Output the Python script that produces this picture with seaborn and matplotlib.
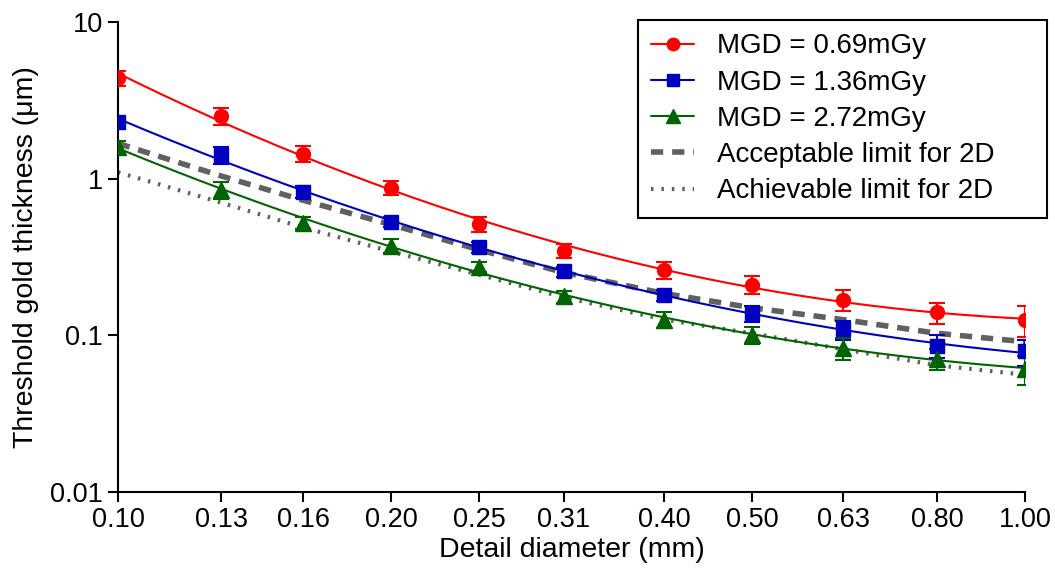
import matplotlib.pyplot as plt
import numpy as np
import pandas as pd
import seaborn as sns
from matplotlib.lines import Line2D

sns.set_theme(style="ticks")
plt.rcParams['font.family'] = ['Liberation Sans', 'DejaVu Sans']
plt.rcParams['text.color'] = 'black'
plt.rcParams['axes.labelcolor'] = 'black'

# detail diameter (mm)
diameter = [0.10, 0.13, 0.16, 0.20, 0.25, 0.31, 0.40, 0.50, 0.63, 0.80, 1.00]
tick_labels = ['0.10', '0.13', '0.16', '0.20', '0.25', '0.31', '0.40', '0.50', '0.63', '0.80', '1.00']

# threshold gold thickness (um), mean and error
mgd_069 = [4.40, 2.52, 1.44, 0.877, 0.516, 0.347, 0.263, 0.211, 0.169, 0.140, 0.125]
mgd_069_err = [0.48, 0.31, 0.17, 0.095, 0.056, 0.037, 0.033, 0.028, 0.027, 0.022, 0.028]
mgd_136 = [2.31, 1.42, 0.826, 0.532, 0.364, 0.256, 0.180, 0.138, 0.109, 0.086, 0.079]
mgd_136_err = [0.18, 0.18, 0.076, 0.040, 0.028, 0.019, 0.014, 0.017, 0.015, 0.014, 0.015]
mgd_272 = [1.60, 0.851, 0.525, 0.374, 0.275, 0.177, 0.126, 0.101, 0.083, 0.071, 0.061]
mgd_272_err = [0.15, 0.105, 0.048, 0.040, 0.021, 0.016, 0.015, 0.0125, 0.013, 0.011, 0.0126]

# EUREF limits for 2D
acceptable = [1.68, 1.04, 0.728, 0.509, 0.352, 0.252, 0.185, 0.150, 0.126, 0.103, 0.091]
achievable = [1.10, 0.703, 0.488, 0.343, 0.244, 0.175, 0.126, 0.103, 0.0815, 0.0644, 0.056]

series = [
    ('MGD = 0.69mGy', mgd_069, mgd_069_err, '#FF0000', 'o', 10),
    ('MGD = 1.36mGy', mgd_136, mgd_136_err, '#0000C0', 's', 10),
    ('MGD = 2.72mGy', mgd_272, mgd_272_err, '#006400', '^', 11),
]

fig, ax = plt.subplots()
fig.set_size_inches(10.55, 5.81)
fig.subplots_adjust(left=0.1118, right=0.9716, top=0.9621, bottom=0.1532)

x = np.array(diameter)
xs = np.logspace(np.log10(x[0]), np.log10(x[-1]), 200)
handles = []
for label, y, err, color, marker, ms in series:
    # second order fit in log-log space, as in the original
    coef = np.polyfit(np.log10(x), np.log10(y), 2)
    fit = pd.DataFrame({'d': xs, 't': 10 ** np.polyval(coef, np.log10(xs))})
    sns.lineplot(data=fit, x='d', y='t', color=color, linewidth=1.5, ax=ax, zorder=3)
    ax.errorbar(x, y, yerr=err, fmt=marker, color=color, markersize=ms,
                capsize=6, elinewidth=1.5, capthick=1.5, zorder=4)
    handles.append(Line2D([], [], color=color, marker=marker, markersize=ms - 1, linewidth=1.5, label=label))

dash = (0, (2.2, 1.6))
dot = (0, (0.6, 1.9))
lim = pd.DataFrame({'d': diameter, 'acc': acceptable, 'ach': achievable})
sns.lineplot(data=lim, x='d', y='acc', color='#606060', linewidth=4, linestyle=dash, ax=ax, zorder=2)
sns.lineplot(data=lim, x='d', y='ach', color='#606060', linewidth=3, linestyle=dot, ax=ax, zorder=2)
handles.append(Line2D([], [], color='#606060', linewidth=4, linestyle=dash, label='Acceptable limit for 2D'))
handles.append(Line2D([], [], color='#606060', linewidth=3, linestyle=dot, label='Achievable limit for 2D'))

ax.set_xscale('log')
ax.set_yscale('log')
ax.set_xlim(0.10, 1.00)
ax.set_ylim(0.01, 10)
ax.set_xticks(diameter)
ax.set_xticklabels(tick_labels)
ax.xaxis.set_minor_locator(plt.NullLocator())
ax.set_yticks([0.01, 0.1, 1, 10])
ax.set_yticklabels(['0.01', '0.1', '1', '10'])
ax.yaxis.set_minor_locator(plt.NullLocator())

ax.tick_params(axis='both', which='major', labelsize=19.5, length=7, width=1.5, colors='black')
for side in ['left', 'bottom']:
    ax.spines[side].set_linewidth(1.5)
    ax.spines[side].set_color('black')
sns.despine(ax=ax)

ax.set_xlabel('Detail diameter (mm)', fontsize=20.5, labelpad=3)
ax.set_ylabel('Threshold gold thickness (\u03bcm)', fontsize=20.5, labelpad=8)

# legend box spans the original frame; expand keeps the wide right margin
box = (638 / 1055, 1 - 218 / 581, (1047 - 638) / 1055, (218 - 20) / 581)
leg = ax.legend(handles=handles, loc='upper left', bbox_to_anchor=box, mode='expand',
                bbox_transform=fig.transFigure, borderaxespad=0, fontsize=20, frameon=True,
                fancybox=False, framealpha=1, edgecolor='black', handlelength=1.55,
                handletextpad=0.8, labelspacing=0.37, borderpad=0.48)
leg.get_frame().set_linewidth(1.5)

plt.savefig('out.png', dpi=100)
plt.close()
